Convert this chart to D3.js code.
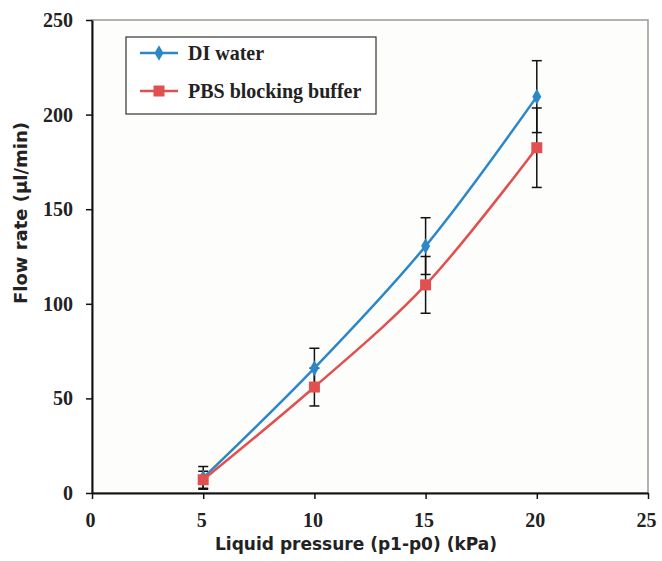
<!DOCTYPE html>
<html>
<head>
<meta charset="utf-8">
<script src="https://cdn.jsdelivr.net/npm/d3@7"></script>
<style>
  html, body { margin: 0; padding: 0; background: #fff; }
</style>
</head>
<body>
<div id="chart"></div>
<script>
// values
const pressure = [5, 10, 15, 20];
const diWater = [8, 66, 130.5, 209.5];
const diErr = [6, 10.5, 15, 19];
const pbsBuffer = [7, 56, 110, 182.5];
const pbsErr = [4.5, 10, 15, 21];
const xTicks = [0, 5, 10, 15, 20, 25];
const yTicks = [0, 50, 100, 150, 200, 250];

const W = 662, H = 561;
const mL = 92, mR = 14, mT = 20, mB = 68;
const SERIF = '"Liberation Serif", "Times New Roman", serif';
const SANS = '"DejaVu Sans", Verdana, sans-serif';
const BLUE = '#2c87c9', RED = '#e24f4f';

const svg = d3.select('#chart').append('svg').attr('width', W).attr('height', H);
const x = d3.scaleLinear().domain([0, 25]).range([mL, W - mR]);
const y = d3.scaleLinear().domain([0, 250]).range([H - mB, mT]);

// plot frame
svg.append('rect').attr('x', x(0)).attr('y', y(250)).attr('width', x(25) - x(0)).attr('height', y(0) - y(250))
  .attr('fill', '#fdfdfb').attr('stroke', '#999').attr('stroke-width', 1.5);

// axes
const xAxis = d3.axisBottom(x).tickValues(xTicks).tickSize(6).tickSizeOuter(0);
const yAxis = d3.axisLeft(y).tickValues(yTicks).tickSize(6).tickSizeOuter(0);
const gx = svg.append('g').attr('transform', `translate(0,${y(0)})`).call(xAxis);
const gy = svg.append('g').attr('transform', `translate(${x(0)},0)`).call(yAxis);
[gx, gy].forEach(g => {
  g.select('.domain').attr('stroke', '#111').attr('stroke-width', 2);
  g.selectAll('.tick line').attr('stroke', '#111').attr('stroke-width', 1.5);
  g.selectAll('.tick text').attr('font-family', SERIF).attr('font-weight', 700)
    .attr('font-size', 20).attr('fill', '#222');
});
gx.selectAll('.tick text').attr('y', 0).attr('dy', 0).attr('transform', 'translate(-2,34)');
gy.selectAll('.tick text').attr('x', -19);

// axis titles
svg.append('text').attr('x', 356).attr('y', 550).attr('text-anchor', 'middle')
  .attr('font-family', SANS).attr('font-weight', 700).attr('font-size', 17).attr('fill', '#222')
  .text('Liquid pressure (p1-p0) (kPa)');
svg.append('text').attr('transform', 'translate(27,213) rotate(-90)').attr('text-anchor', 'middle')
  .attr('font-family', SANS).attr('font-weight', 700).attr('font-size', 18).attr('fill', '#222')
  .text('Flow rate (μl/min)');

const series = [
  { name: 'DI water', vals: diWater, err: diErr, color: BLUE, sym: d3.symbolDiamond, size: 70 },
  { name: 'PBS blocking buffer', vals: pbsBuffer, err: pbsErr, color: RED, sym: d3.symbolSquare, size: 121 }
];

const line = d3.line().x(d => x(d[0])).y(d => y(d[1])).curve(d3.curveCatmullRom.alpha(0.5));

// error bars first, then lines, then markers
series.forEach(s => {
  pressure.forEach((p, i) => {
    const g = svg.append('g').attr('stroke', '#111').attr('stroke-width', 1.5);
    const lo = y(s.vals[i] - s.err[i]), hi = y(s.vals[i] + s.err[i]);
    g.append('line').attr('x1', x(p)).attr('x2', x(p)).attr('y1', lo).attr('y2', hi);
    g.append('line').attr('x1', x(p) - 5).attr('x2', x(p) + 5).attr('y1', lo).attr('y2', lo);
    g.append('line').attr('x1', x(p) - 5).attr('x2', x(p) + 5).attr('y1', hi).attr('y2', hi);
  });
});
series.forEach(s => {
  svg.append('path').datum(pressure.map((p, i) => [p, s.vals[i]])).attr('d', line)
    .attr('fill', 'none').attr('stroke', s.color).attr('stroke-width', 2.5);
});
series.forEach(s => {
  pressure.forEach((p, i) => {
    svg.append('path').attr('d', d3.symbol().type(s.sym).size(s.size)())
      .attr('transform', `translate(${x(p)},${y(s.vals[i])})`).attr('fill', s.color);
  });
});

// legend
const lg = svg.append('g');
lg.append('rect').attr('x', 126).attr('y', 37).attr('width', 250).attr('height', 77)
  .attr('fill', '#fff').attr('stroke', '#333').attr('stroke-width', 1.2);
series.forEach((s, i) => {
  const ly = 53 + i * 38;
  lg.append('line').attr('x1', 140).attr('x2', 178).attr('y1', ly).attr('y2', ly)
    .attr('stroke', s.color).attr('stroke-width', 2.5);
  lg.append('path').attr('d', d3.symbol().type(s.sym).size(s.size)())
    .attr('transform', `translate(159,${ly})`).attr('fill', s.color);
  lg.append('text').attr('x', 188).attr('y', ly + 7).attr('font-family', SERIF).attr('font-weight', 700)
    .attr('font-size', 20).attr('fill', '#222').text(s.name);
});
</script>
</body>
</html>
